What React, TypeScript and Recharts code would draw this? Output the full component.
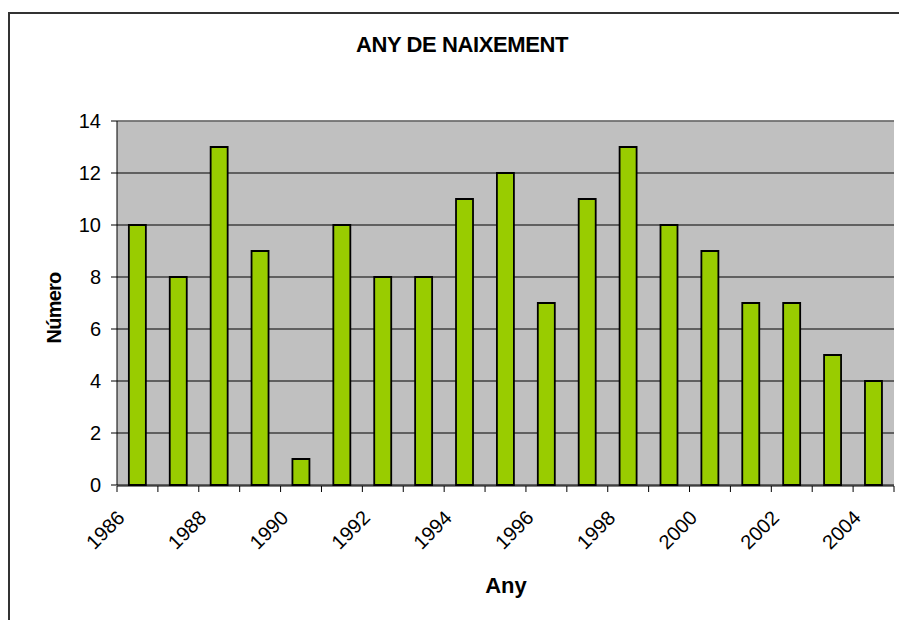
import { Bar, BarChart, CartesianGrid, ReferenceLine, XAxis, YAxis } from "recharts";

const years = [
  "1986", "1987", "1988", "1989", "1990", "1991", "1992", "1993", "1994", "1995",
  "1996", "1997", "1998", "1999", "2000", "2001", "2002", "2003", "2004",
];
const counts = [10, 8, 13, 9, 1, 10, 8, 8, 11, 12, 7, 11, 13, 10, 9, 7, 7, 5, 4];
const yTicks = [0, 2, 4, 6, 8, 10, 12, 14];
const edgeTicks = years.map((_, i) => i).concat(years.length);

const FONT = "'Liberation Sans', Arial, sans-serif";

const data = years.map((year, i) => ({ year, n: counts[i], pos: i + 0.5 }));

// rotated year label, anchored at the end of its baseline
function YearTick(props: any) {
  const { x, y, payload } = props;
  const tx = x - 11.5;
  const ty = y + 26;
  return (
    <text
      x={tx}
      y={ty}
      textAnchor="end"
      transform={`rotate(-45, ${tx}, ${ty})`}
      fontFamily={FONT}
      fontSize={20}
      fill="#000"
    >
      {payload.value}
    </text>
  );
}

export default function App() {
  return (
    <div style={{ position: "absolute", left: 0, top: 0, width: 899, height: 620, overflow: "hidden", background: "#fff" }}>
      <div
        style={{
          position: "absolute",
          left: 8,
          top: 12,
          width: 900,
          height: 620,
          borderLeft: "2px solid #333",
          borderTop: "2px solid #333",
        }}
      />
      <div style={{ position: "absolute", left: 0, top: 0 }}>
        <BarChart
          width={899}
          height={620}
          data={data}
          margin={{ top: 121, right: 5, left: 57, bottom: 133 }}
          barCategoryGap="29%"
        >
          <CartesianGrid vertical={false} stroke="#000" fill="#C0C0C0" fillOpacity={1} />
          <XAxis
            xAxisId="edges"
            dataKey="pos"
            type="number"
            domain={[0, years.length]}
            ticks={edgeTicks}
            allowDataOverflow
            height={1}
            tickSize={6}
            tickFormatter={() => ""}
            axisLine={{ stroke: "#000" }}
            tickLine={{ stroke: "#000" }}
          />
          <XAxis
            xAxisId="cat"
            dataKey="year"
            interval={1}
            height={1}
            axisLine={false}
            tickLine={false}
            tick={<YearTick />}
          />
          <YAxis
            domain={[0, 14]}
            ticks={yTicks}
            width={60}
            tickSize={6}
            tickMargin={10}
            axisLine={{ stroke: "#000" }}
            tickLine={{ stroke: "#000" }}
            tick={{ fontFamily: FONT, fontSize: 20, fill: "#000" }}
          />
          <YAxis
            yAxisId="right"
            orientation="right"
            domain={[0, 14]}
            width={0}
            tick={false}
            tickLine={false}
            axisLine={{ stroke: "#808080", strokeWidth: 1.5 }}
          />
          <ReferenceLine y={14} stroke="#808080" strokeWidth={1.5} xAxisId="cat" />
          <Bar
            dataKey="n"
            xAxisId="cat"
            fill="#99CC00"
            stroke="#000"
            strokeWidth={1.8}
            isAnimationActive={false}
          />
        </BarChart>
      </div>
      <svg
        width={899}
        height={620}
        style={{ position: "absolute", left: 0, top: 0, pointerEvents: "none" }}
      >
        <text
          x={462}
          y={52}
          textAnchor="middle"
          fontFamily={FONT}
          fontWeight="bold"
          fontSize={22}
          letterSpacing={-0.4}
        >
          ANY DE NAIXEMENT
        </text>
        <text
          x={61}
          y={308}
          textAnchor="middle"
          transform="rotate(-90, 61, 308)"
          fontFamily={FONT}
          fontWeight="bold"
          fontSize={20}
          letterSpacing={-0.8}
        >
          Número
        </text>
        <text
          x={506}
          y={593}
          textAnchor="middle"
          fontFamily={FONT}
          fontWeight="bold"
          fontSize={22}
        >
          Any
        </text>
      </svg>
    </div>
  );
}
